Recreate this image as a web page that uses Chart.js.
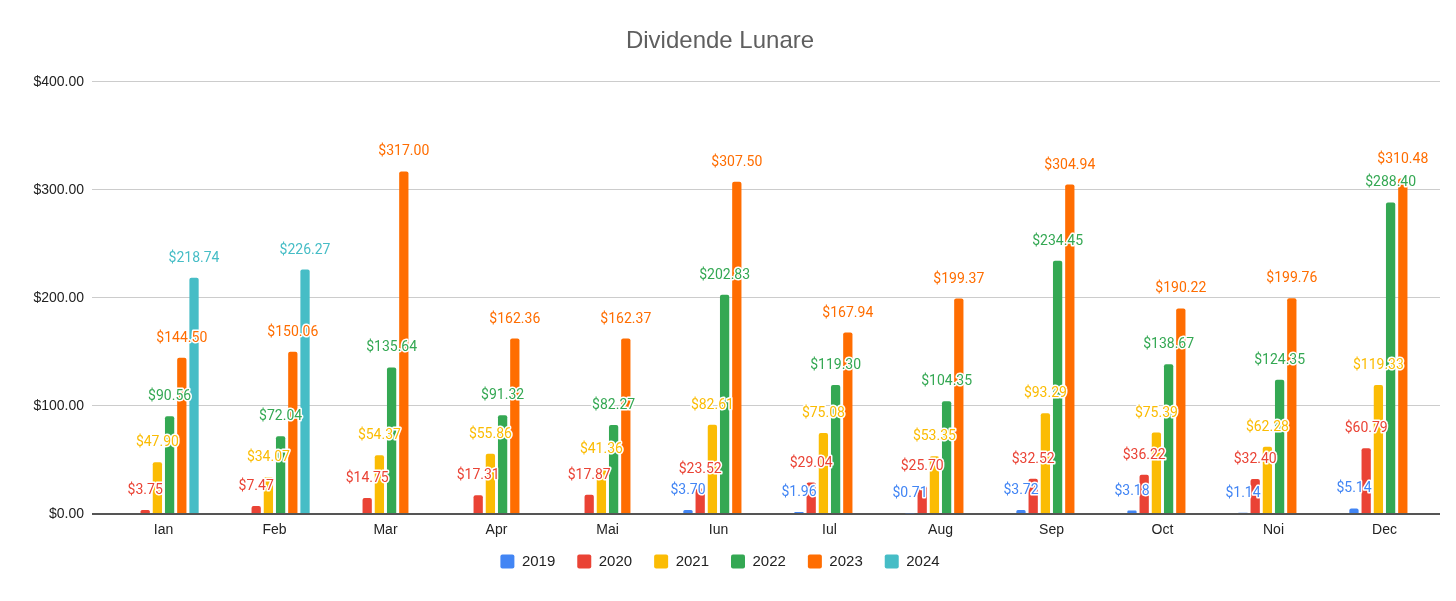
<!DOCTYPE html>
<html>
<head>
<meta charset="utf-8">
<title>Dividende Lunare</title>
<script src="https://cdn.jsdelivr.net/npm/chart.js@4/dist/chart.umd.min.js"></script>
<style>
    body { margin: 0; background: #fff; }
    #wrap { width: 1456px; height: 601px; }
</style>
</head>
<body>
<div id="wrap"><canvas id="dividendChart"></canvas></div>
<script>
const months = ['Ian', 'Feb', 'Mar', 'Apr', 'Mai', 'Iun', 'Iul', 'Aug', 'Sep', 'Oct', 'Noi', 'Dec'];
const years = ['2019', '2020', '2021', '2022', '2023', '2024'];

const values2019 = [null, null, null, null, null, 3.70, 1.96, 0.71, 3.72, 3.18, 1.14, 5.14];
const values2020 = [3.75, 7.47, 14.75, 17.31, 17.87, 23.52, 29.04, 25.70, 32.52, 36.22, 32.40, 60.79];
const values2021 = [47.90, 34.07, 54.37, 55.86, 41.36, 82.61, 75.08, 53.35, 93.29, 75.39, 62.28, 119.33];
const values2022 = [90.56, 72.04, 135.64, 91.32, 82.27, 202.83, 119.30, 104.35, 234.45, 138.67, 124.35, 288.40];
const values2023 = [144.50, 150.06, 317.00, 162.36, 162.37, 307.50, 167.94, 199.37, 304.94, 190.22, 199.76, 310.48];
const values2024 = [218.74, 226.27, null, null, null, null, null, null, null, null, null, null];

const yTicks = [0, 100, 200, 300, 400];

const seriesValues = [values2019, values2020, values2021, values2022, values2023, values2024];
const seriesColors = ['#4285f4', '#ea4335', '#fbbc04', '#34a853', '#ff6d01', '#46bdc6'];

const sansFont = "'Liberation Sans', Arial, sans-serif";

// Draw the value labels above each bar, with a white halo
const valueLabels = {
    id: 'valueLabels',
    afterDatasetsDraw(chart) {
        const ctx = chart.ctx;
        ctx.save();
        ctx.font = '14px Roboto, Arial, sans-serif';
        ctx.textAlign = 'center';
        ctx.textBaseline = 'alphabetic';
        ctx.lineJoin = 'round';
        chart.data.datasets.forEach((ds, i) => {
            const meta = chart.getDatasetMeta(i);
            if (meta.hidden) return;
            meta.data.forEach((bar, j) => {
                const v = ds.data[j];
                if (v === null || v === undefined) return;
                const text = '$' + v.toFixed(2);
                ctx.lineWidth = 3;
                ctx.strokeStyle = '#fff';
                ctx.strokeText(text, bar.x, bar.y - 16);
                ctx.fillStyle = ds.backgroundColor;
                ctx.fillText(text, bar.x, bar.y - 16);
            });
        });
        ctx.restore();
    }
};

// x labels get clipped to the scale box, so let the box reach under the legend
const unclipXLabels = {
    id: 'unclipXLabels',
    afterLayout(chart) {
        chart.scales.x.bottom += 14;
    }
};

const datasets = years.map((year, i) => ({
    label: year,
    data: seriesValues[i],
    backgroundColor: seriesColors[i],
    borderRadius: 2,
    borderSkipped: 'start',
    categoryPercentage: 0.66,
    barPercentage: 0.76
}));

new Chart(document.getElementById('dividendChart'), {
    type: 'bar',
    data: { labels: months, datasets: datasets },
    options: {
        responsive: true,
        maintainAspectRatio: false,
        animation: false,
        layout: { padding: { left: 0, right: 16, top: 0, bottom: 22 } },
        plugins: {
            title: {
                display: true,
                text: 'Dividende Lunare',
                color: '#5f5f5f',
                font: { family: sansFont, size: 24, weight: 'normal' },
                padding: { top: 27, bottom: 26 }
            },
            legend: {
                position: 'bottom',
                labels: {
                    color: '#222',
                    font: { family: sansFont, size: 15 },
                    boxWidth: 14,
                    boxHeight: 14,
                    padding: 22,
                    useBorderRadius: true,
                    borderRadius: 2
                }
            },
            tooltip: { enabled: false }
        },
        scales: {
            x: {
                grid: { display: false, drawTicks: false },
                border: { display: false },
                ticks: {
                    color: '#222',
                    font: { family: sansFont, size: 14 },
                    padding: 8
                },
                afterFit(scale) { scale.height = 18; }
            },
            y: {
                min: 0,
                max: 400,
                grid: {
                    color: ctx => (ctx.tick && ctx.tick.value === 0) ? '#555555' : '#cccccc',
                    lineWidth: ctx => (ctx.tick && ctx.tick.value === 0) ? 2 : 1,
                    drawTicks: true,
                    tickLength: 16
                },
                border: { display: false },
                afterBuildTicks(scale) {
                    scale.ticks = yTicks.map(v => ({ value: v }));
                },
                ticks: {
                    color: '#222',
                    font: { family: sansFont, size: 14 },
                    padding: 8,
                    callback: value => '$' + value.toFixed(2)
                },
                afterFit(scale) { scale.width = 108; }
            }
        }
    },
    plugins: [valueLabels, unclipXLabels]
});
</script>
</body>
</html>
